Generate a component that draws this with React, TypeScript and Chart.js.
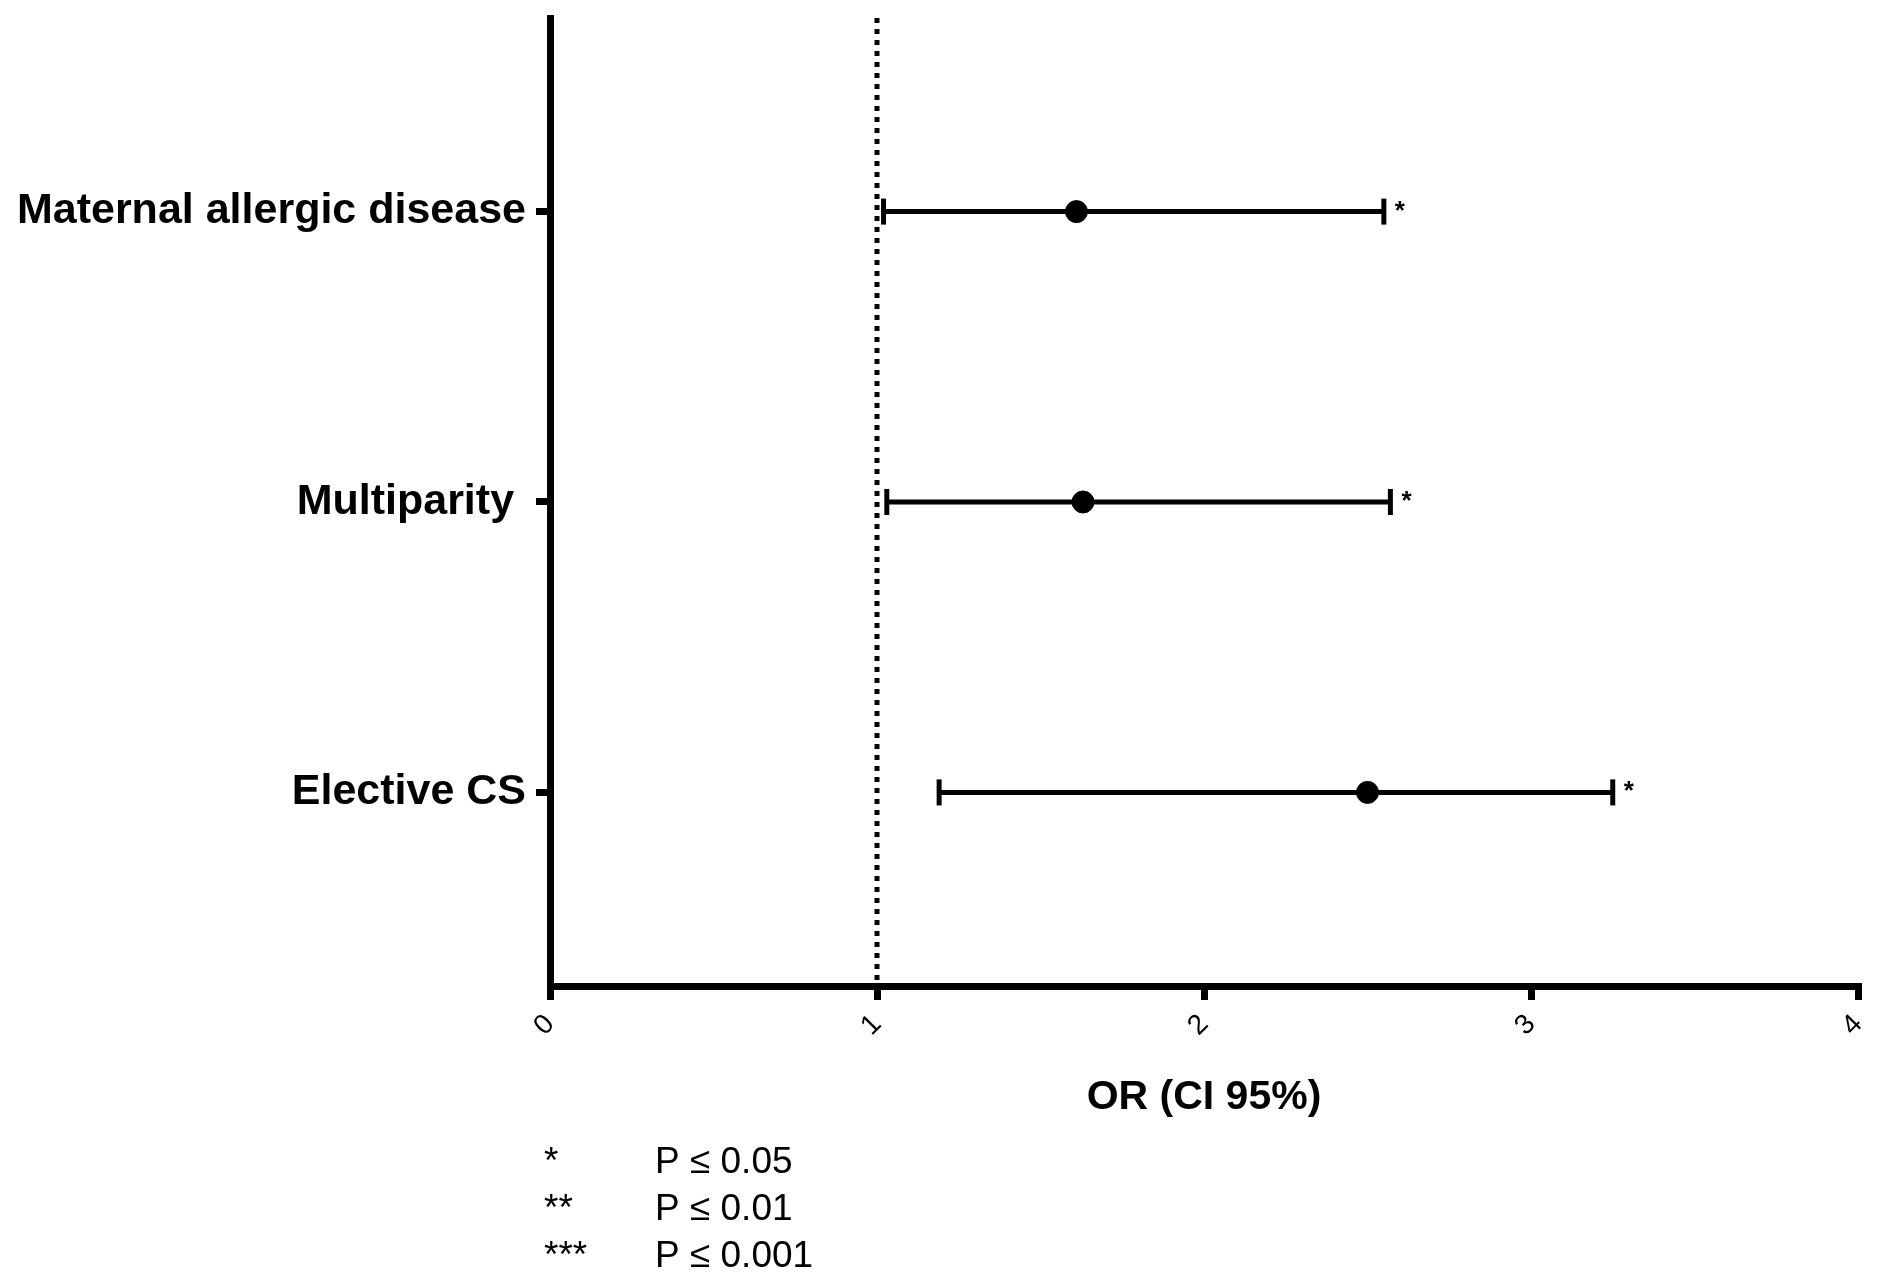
import React, { useEffect, useRef } from "react";
import { Chart, registerables } from "chart.js";

Chart.register(...registerables);

// ---- data ----
const categories = ["Maternal allergic disease", "Multiparity ", "Elective CS"];
const categoryPositions = [3, 2, 1];
const oddsRatios = [1.61, 1.63, 2.5];
const ciLower = [1.02, 1.03, 1.19];
const ciUpper = [2.55, 2.57, 3.25];
const significance = ["*", "*", "*"];
const xTickValues = [0, 1, 2, 3, 4];
const referenceLineX = 1;
const legendStars = ["*", "**", "***"];
const legendTexts = ["P \u2264 0.05", "P \u2264 0.01", "P \u2264 0.001"];
const xAxisTitle = "OR (CI 95%)";

const FONT = "'Liberation Sans', Arial, Helvetica, sans-serif";
const Y_MIN = 1 / 3;
const Y_MAX = 11 / 3;

const annotationPlugin = {
  id: "forestAnnotations",
  afterDatasetsDraw(chart: any) {
    const ctx = chart.ctx;
    const xs = chart.scales.x;
    const ys = chart.scales.y;
    ctx.save();
    ctx.fillStyle = "#000";
    ctx.font = `bold 26px ${FONT}`;
    ctx.textAlign = "left";
    ctx.textBaseline = "alphabetic";
    for (let i = 0; i < categories.length; i++) {
      const px = xs.getPixelForValue(ciUpper[i]) + 11;
      const py = ys.getPixelForValue(categoryPositions[i]) + 7;
      ctx.fillText(significance[i], px, py);
    }
    ctx.restore();
  },
  afterDraw(chart: any) {
    const ctx = chart.ctx;
    const area = chart.chartArea;
    ctx.save();
    ctx.fillStyle = "#000";
    ctx.font = `37px ${FONT}`;
    ctx.textBaseline = "alphabetic";
    ctx.textAlign = "left";
    for (let i = 0; i < legendTexts.length; i++) {
      const by = area.bottom + 187 + i * 47;
      ctx.fillText(legendStars[i], area.left - 6, by);
      ctx.fillText(legendTexts[i], area.left + 105, by);
    }
    ctx.restore();
  },
};

export default function App() {
  const canvasRef = useRef<HTMLCanvasElement | null>(null);

  useEffect(() => {
    if (!canvasRef.current) return;

    const errorBarSets = categories.map((c, i) => ({
      label: c + " CI",
      data: [
        { x: ciLower[i], y: categoryPositions[i] },
        { x: ciUpper[i], y: categoryPositions[i] },
      ],
      showLine: true,
      borderColor: "#000",
      backgroundColor: "#000",
      borderWidth: 5,
      pointStyle: "line",
      pointRotation: 90,
      pointRadius: 13,
      pointBorderWidth: 5,
      pointHoverRadius: 13,
      order: 2,
    }));

    const chart = new Chart(canvasRef.current, {
      type: "scatter",
      data: {
        datasets: [
          {
            label: "reference",
            data: [
              { x: referenceLineX, y: Y_MAX },
              { x: referenceLineX, y: Y_MIN },
            ],
            showLine: true,
            borderColor: "#000",
            borderWidth: 5,
            borderDash: [5, 6],
            pointRadius: 0,
            order: 3,
          } as any,
          ...(errorBarSets as any[]),
          {
            label: "OR",
            data: categories.map((_, i) => ({ x: oddsRatios[i], y: categoryPositions[i] })),
            backgroundColor: "#000",
            borderColor: "#000",
            pointRadius: 11,
            pointStyle: "circle",
            order: 1,
          } as any,
        ],
      },
      options: {
        responsive: false,
        animation: false,
        events: [],
        layout: { padding: { top: 14, right: 23, left: 0, bottom: 0 } },
        plugins: {
          legend: { display: false },
          tooltip: { enabled: false },
          title: { display: false },
        },
        scales: {
          x: {
            type: "linear",
            min: 0,
            max: 4,
            afterBuildTicks: (scale: any) => {
              scale.ticks = xTickValues.map((v) => ({ value: v }));
            },
            afterFit: (scale: any) => {
              scale.height = 297;
              scale.paddingLeft = 0;
              scale.paddingRight = 0;
            },
            ticks: {
              autoSkip: false,
              minRotation: 45,
              maxRotation: 45,
              padding: 8,
              color: "#000",
              font: { family: FONT, size: 28 },
              callback: (v: any) => String(v),
            },
            grid: {
              drawOnChartArea: false,
              drawTicks: true,
              tickLength: 14,
              tickWidth: 7,
              tickColor: "#000",
              lineWidth: 7,
              color: "#000",
            },
            border: { display: true, width: 7, color: "#000" },
            title: {
              display: true,
              text: xAxisTitle,
              color: "#000",
              font: { family: FONT, size: 41, weight: "bold" },
              padding: { top: 0, bottom: 161 },
            },
          },
          y: {
            type: "linear",
            min: Y_MIN,
            max: Y_MAX,
            afterBuildTicks: (scale: any) => {
              scale.ticks = categoryPositions.map((v) => ({ value: v }));
            },
            afterFit: (scale: any) => {
              scale.width = 550;
              scale.paddingTop = 0;
              scale.paddingBottom = 0;
            },
            ticks: {
              autoSkip: false,
              padding: 10,
              color: "#000",
              font: { family: FONT, size: 43, weight: "bold" },
              callback: (v: any) => {
                const idx = categoryPositions.indexOf(Number(v));
                return idx >= 0 ? categories[idx] : "";
              },
            },
            grid: {
              drawOnChartArea: false,
              drawTicks: true,
              tickLength: 14,
              tickWidth: 7,
              tickColor: "#000",
              lineWidth: 7,
              color: "#000",
            },
            border: { display: true, width: 7, color: "#000" },
          },
        },
      } as any,
      plugins: [annotationPlugin],
    });

    return () => {
      chart.destroy();
    };
  }, []);

  return (
    <div
      style={{
        position: "fixed",
        left: 0,
        top: 0,
        width: 1881,
        height: 1283,
        background: "#fff",
      }}
    >
      <canvas ref={canvasRef} width={1881} height={1283} style={{ width: 1881, height: 1283 }} />
    </div>
  );
}
